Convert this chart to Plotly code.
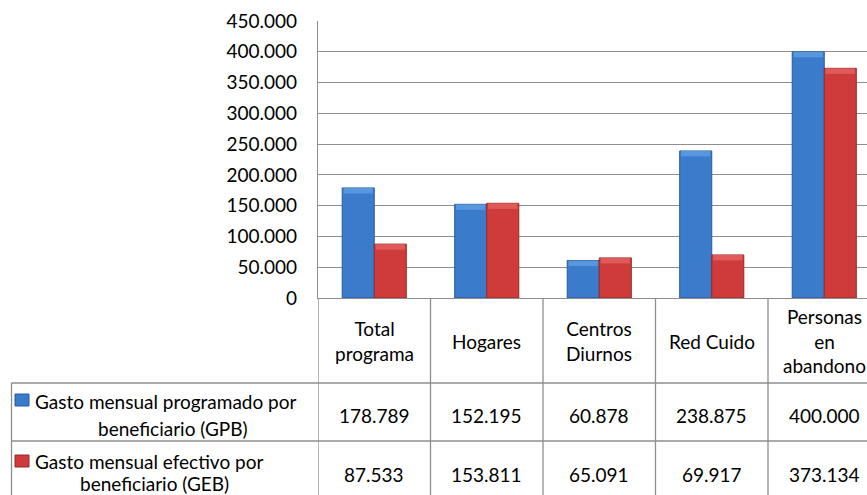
import plotly.graph_objects as go

# data
categories = ["Total programa", "Hogares", "Centros Diurnos", "Red Cuido", "Personas en abandono"]
header_labels = ["Total<br>programa", "Hogares", "Centros<br>Diurnos", "Red Cuido", "Personas<br>en<br>abandono"]
gpb_values = [178789, 152195, 60878, 238875, 400000]
geb_values = [87533, 153811, 65091, 69917, 373134]
series_lines = [
    ("Gasto mensual programado por", "beneficiario (GPB)"),
    ("Gasto mensual efectivo por", "beneficiario (GEB)"),
]

BLUE = "#3b7bcc"
BLUE_LIGHT = "#5896de"
BLUE_DARK = "#2a5a98"
RED = "#cf3b3b"
RED_LIGHT = "#e05a5a"
RED_DARK = "#962a2a"
GRID = "#8e8e8e"
FONT = "Lato"
FONT_SIZE = 19
BEVEL = 9000  # height of the lighter top edge of each bar, in axis units

W, H = 867, 495
PLOT_L, PLOT_T, PLOT_B = 318, 21, 298
CAT_W = 112.5


def py(y):
    # pixel row -> paper y
    return (PLOT_B - y) / (PLOT_B - PLOT_T)


def px(x):
    # pixel column -> paper x
    return (x - PLOT_L) / (W - PLOT_L)


def fmt(v):
    return f"{v:,}".replace(",", ".")


fig = go.Figure()
for values, (l1, l2), col, light, dark, group in (
    (gpb_values, series_lines[0], BLUE, BLUE_LIGHT, BLUE_DARK, "gpb"),
    (geb_values, series_lines[1], RED, RED_LIGHT, RED_DARK, "geb"),
):
    fig.add_trace(
        go.Bar(
            x=categories,
            y=values,
            name=f"{l1} {l2}",
            offsetgroup=group,
            marker=dict(color=col, line=dict(color=dark, width=1)),
        )
    )
    # lighter cap to hint at the bevelled look of the original bars
    fig.add_trace(
        go.Bar(
            x=categories,
            y=[BEVEL] * len(values),
            base=[v - BEVEL for v in values],
            offsetgroup=group,
            width=0.26,
            marker=dict(color=light, line=dict(width=0)),
            hoverinfo="skip",
            showlegend=False,
        )
    )

shapes = []
annotations = []

# column separators of the data table
for i in range(len(categories)):
    shapes.append(
        dict(type="line", xref="x", yref="paper", x0=i - 0.5, x1=i - 0.5,
             y0=py(H + 5), y1=0, line=dict(color=GRID, width=1.3))
    )
# left border of the legend column and row lines
shapes.append(dict(type="line", xref="paper", yref="paper", x0=px(11.5), x1=px(11.5),
                   y0=py(H + 5), y1=py(383), line=dict(color=GRID, width=1.3)))
for row_y in (383, 441):
    shapes.append(dict(type="line", xref="paper", yref="paper", x0=px(11.5), x1=1,
                       y0=py(row_y), y1=py(row_y), line=dict(color=GRID, width=1.3)))

# header row
for cat, label in zip(categories, header_labels):
    annotations.append(dict(x=cat, y=py(341), xref="x", yref="paper", text=label,
                            showarrow=False, yanchor="middle", align="center"))

# value rows
for values, row_y in ((gpb_values, 415), (geb_values, 474)):
    for cat, v in zip(categories, values):
        annotations.append(dict(x=cat, y=py(row_y), xref="x", yref="paper", text=fmt(v),
                                showarrow=False, yanchor="middle"))

# legend keys and series names in the first column
legend_rows = [
    (series_lines[0], BLUE, BLUE_DARK, 394, 401, 428, 173),
    (series_lines[1], RED, RED_DARK, 455, 461, 483, 154),
]
for (line1, line2), col, dark, key_top, y1, y2, x2 in legend_rows:
    shapes.append(dict(type="rect", xref="paper", yref="paper", x0=px(15), x1=px(29),
                       y0=py(key_top + 12), y1=py(key_top), fillcolor=col,
                       line=dict(color=dark, width=1)))
    annotations.append(dict(x=px(33), y=py(y1), xref="paper", yref="paper", text=line1,
                            showarrow=False, xanchor="left", yanchor="middle"))
    annotations.append(dict(x=px(x2), y=py(y2), xref="paper", yref="paper", text=line2,
                            showarrow=False, xanchor="center", yanchor="middle"))

fig.update_layout(
    width=W,
    height=H,
    margin=dict(l=PLOT_L, r=0, t=PLOT_T, b=H - PLOT_B, pad=0),
    paper_bgcolor="white",
    plot_bgcolor="white",
    barmode="group",
    bargap=0.43,
    bargroupgap=0,
    showlegend=False,
    separators=",.",
    font=dict(family=FONT, size=FONT_SIZE, color="black"),
    shapes=shapes,
    annotations=annotations,
)
fig.update_xaxes(
    range=[-0.5, -0.5 + (W - PLOT_L) / CAT_W],
    showticklabels=False,
    showgrid=False,
    showline=True,
    linecolor=GRID,
    linewidth=1.3,
    ticks="",
    fixedrange=True,
)
fig.update_yaxes(
    range=[0, 450000],
    dtick=50000,
    tickformat=",.0f",
    showgrid=True,
    gridcolor=GRID,
    gridwidth=1.3,
    showline=True,
    linecolor=GRID,
    linewidth=1.3,
    zeroline=False,
    ticks="",
    ticklabelstandoff=16,
    tickfont=dict(family=FONT, size=FONT_SIZE, color="black"),
    fixedrange=True,
)

# drop the page's default body margin so the figure sits at the window corner
fig.write_html(
    "out.html",
    config={"displayModeBar": False},
    post_script="document.body.style.margin='0';",
)
